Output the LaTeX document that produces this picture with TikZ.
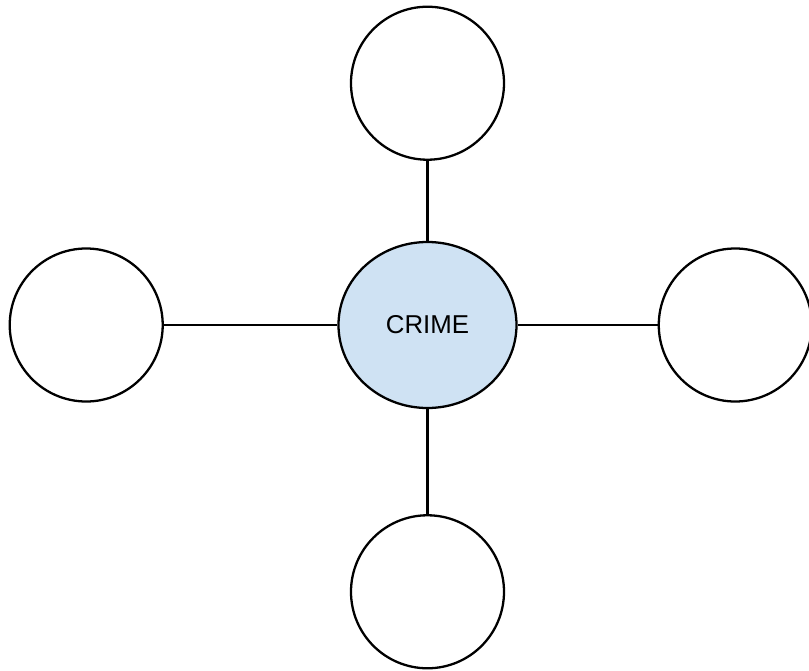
\documentclass[tikz,border=0pt]{standalone}
\usepackage{fontspec}
\setmainfont{Liberation Sans}
\usepackage{tikz}
\usetikzlibrary{positioning,shapes.geometric}
\definecolor{crimeblue}{HTML}{CFE2F3}

\begin{document}
\begin{tikzpicture}[every node/.style={font=\fontsize{14.7}{17}\selectfont},
  hub/.style={draw, ellipse, fill=crimeblue, line width=1.3pt, minimum width=3.56cm, minimum height=3.32cm},
  leaf/.style={draw, circle, fill=white, line width=1.3pt, minimum size=3.06cm, inner sep=0pt},
  line/.style={line width=1.3pt}]
  \useasboundingbox (0,0) rectangle (16.18,-13.42);
  \node[hub] (crime) at (8.55,-6.5) {CRIME\hspace{0.28cm}};
  \node[leaf,above=1.6cm of crime] (top) {};
  \node[leaf,below=2.1cm of crime] (bottom) {};
  \node[leaf,left=3.47cm of crime] (left) {};
  \node[leaf,right=2.8cm of crime] (right) {};
  \draw[line] (crime)--(top);
  \draw[line] (crime)--(bottom);
  \draw[line] (crime)--(left);
  \draw[line] (crime)--(right);
\end{tikzpicture}
\end{document}
